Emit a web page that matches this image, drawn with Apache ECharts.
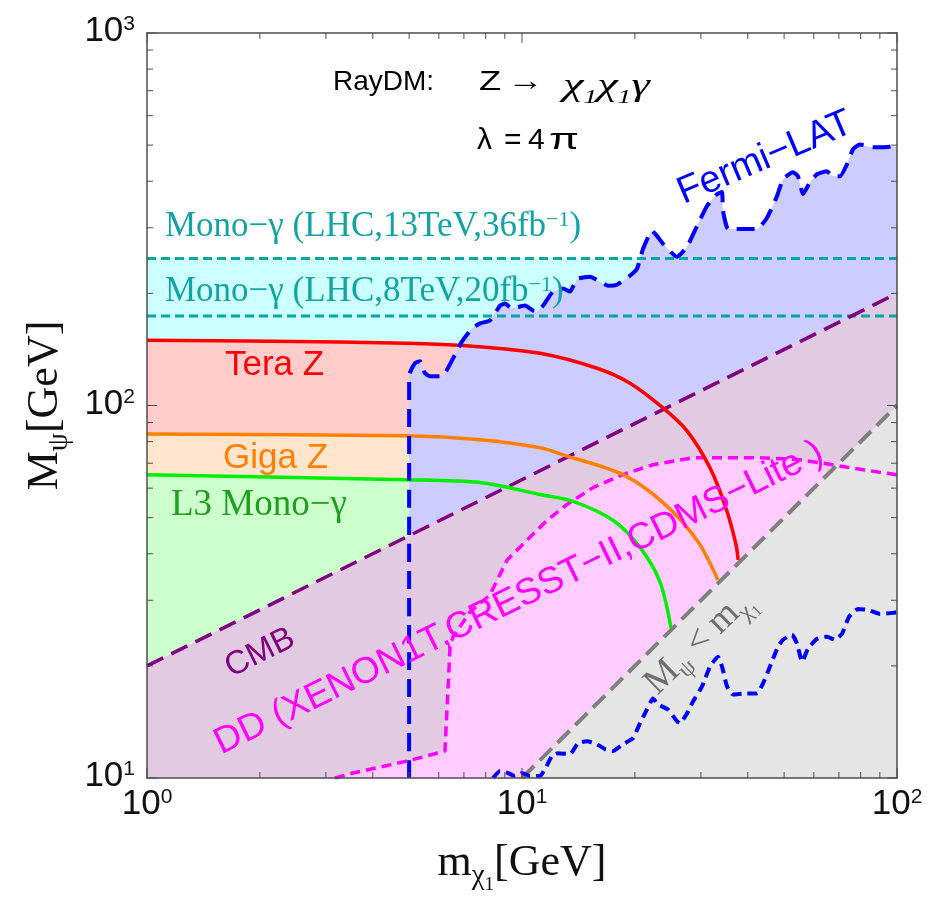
<!DOCTYPE html>
<html><head><meta charset="utf-8">
<script src="https://cdn.jsdelivr.net/npm/echarts@6/dist/echarts.min.js"></script>
<style>html,body{margin:0;padding:0;background:#fff}#c{width:938px;height:900px}</style>
</head><body><div id="c"></div>
<script>
// ---- ticks ----
const xMajorTicks = [1, 10, 100];
const xMinorTicks = [2,3,4,5,6,7,8,9,20,30,40,50,60,70,80,90];
const yMajorTicks = [10, 100, 1000];
const yMinorTicks = [20,30,40,50,60,70,80,90,200,300,400,500,600,700,800,900];
const xTickExponents = ['0', '1', '2'];      // 10^0 .. 10^2
const yTickExponents = ['1', '2', '3'];      // 10^1 .. 10^3

// ---- curves: [m_chi1 (GeV), M_psi (GeV)] ----
const monoLHC13 = [[1, 248], [100, 248]];
const monoLHC8  = [[1, 174], [100, 174]];
const teraZ = [[1,149.6],[2.17,148.7],[4.94,146.9],[7.40,144.2],[11.17,138.1],[15.85,125.9],[19.41,114.8],[23.77,98.5],[27.54,85.5],[31.7,68.1],[35.0,53.0],[37.2,42.4],[37.7,38.5]];
const gigaZ = [[1,83.9],[4.94,82.9],[7.73,80.9],[11.17,77.0],[13.0,73.5],[18.6,65.2],[24.1,54.2],[29.5,43.0],[33.3,34.0]];
const l3MonoGamma = [[1,65.2],[4.94,63.2],[7.73,62.1],[11.17,57.7],[13.68,55.3],[17.48,49.2],[20.64,41.6],[23.33,33.6],[24.96,25.3]];
const fermiLAT = [[5.0,10],[5.0,120.6],[5.18,129.9],[5.35,131.5],[5.51,122.1],[5.68,119.9],[6.04,119.9],[6.23,122.1],[6.55,133.9],[6.92,148.7],[7.36,161.1],[7.73,166.1],[8.21,169.2],[8.74,185.5],[9.01,187.8],[9.40,182.2],[10.19,185.5],[10.70,179.9],[10.96,178.8],[11.38,185.5],[12.10,202.2],[12.87,206.0],[13.43,202.2],[13.68,208.6],[14.11,219.1],[15.19,221.8],[16.14,215.0],[16.96,209.7],[17.92,211.0],[19.41,223.1],[20.27,232.9],[21.03,263.4],[22.22,294.3],[22.91,285.4],[23.77,271.7],[25.91,250.7],[27.54,266.6],[29.29,303.4],[31.14,343.1],[33.11,369.4],[34.15,374.0],[34.36,332.7],[35.43,297.9],[37.45,297.9],[42.34,297.9],[45.02,319.3],[47.86,364.8],[49.66,405.0],[52.80,422.8],[54.45,412.6],[56.15,369.4],[58.61,397.6],[61.20,417.6],[65.07,425.5],[67.50,412.6],[70.47,412.6],[73.56,444.2],[76.30,487.2],[79.66,502.3],[86.30,493.2],[91.80,493.2],[98.80,496.2],[100,490]];
const fermiLATLow = [[8.37,10.0],[8.74,10.44],[9.18,10.31],[9.58,10.12],[10.0,10.31],[10.50,10.12],[11.17,10.12],[11.52,10.57],[12.02,11.45],[12.47,11.66],[13.43,11.59],[14.11,12.40],[14.91,12.55],[15.85,12.32],[16.65,11.95],[17.48,11.81],[18.59,12.32],[19.77,12.79],[20.64,14.03],[21.54,15.28],[22.35,16.35],[23.05,15.76],[24.50,15.28],[25.91,14.20],[26.39,14.03],[27.54,14.91],[28.58,16.05],[30.20,17.61],[31.72,19.91],[33.32,21.17],[34.15,19.91],[35.22,17.61],[36.53,16.76],[39.81,16.87],[42.34,16.87],[43.92,17.94],[45.84,19.91],[48.17,22.51],[49.66,23.50],[52.48,24.24],[54.12,22.93],[55.83,20.53],[57.90,22.24],[61.20,23.64],[65.07,23.94],[68.35,23.50],[71.35,24.39],[74.47,27.08],[78.70,28.44],[83.70,28.27],[90.10,27.58],[97.6,27.75],[100,27.9]];
const cmb = [[1, 20], [100, 200]];
const directDetection = [[3.17,10.0],[3.54,10.31],[4.94,11.10],[6.23,11.81],[6.43,22.51],[6.55,23.94],[7.27,27.92],[8.21,31.0],[9.12,38.45],[10.31,43.47],[11.66,49.16],[13.18,54.24],[15.46,60.2],[18.59,65.24],[22.35,69.36],[28.58,72.4],[36.53,72.4],[43.12,72.4],[55.12,71.5],[62.33,70.2],[74.95,68.1],[98.8,65.24],[100,65.1]];
const kinematicLimit = [[10, 10], [100, 100]];

const SANS = '"Liberation Sans", Arial, sans-serif';
const SERIF = '"Liberation Serif", "Times New Roman", serif';
const FRAME = '#4d4d4d';
const deg = d => d * Math.PI / 180;

function fill(name, data, color, z, smooth) {
  return { name, type: 'line', data, z, silent: true, symbol: 'none', showSymbol: false, smooth: smooth || false,
    lineStyle: { opacity: 0, width: 0 }, areaStyle: { color, opacity: 1, origin: 'start' }, animation: false };
}
function stroke(name, data, color, width, type, z, smooth) {
  return { name, type: 'line', data, z, silent: true, symbol: 'none', showSymbol: false, smooth: smooth || false,
    lineStyle: { color, width, type, cap: 'butt' }, animation: false };
}
function tickSeries(values, isX, len) {
  return { type: 'custom', coordinateSystem: 'cartesian2d', silent: true, z: 40, animation: false,
    data: values.map(v => isX ? [v, 10] : [1, v]),
    renderItem: (params, api) => {
      let a, b, s1, s2;
      if (isX) {
        a = api.coord([api.value(0), 10]); b = api.coord([api.value(0), 1000]);
        s1 = { x1: a[0], y1: a[1], x2: a[0], y2: a[1] - len };
        s2 = { x1: b[0], y1: b[1], x2: b[0], y2: b[1] + len };
      } else {
        a = api.coord([1, api.value(1)]); b = api.coord([100, api.value(1)]);
        s1 = { x1: a[0], y1: a[1], x2: a[0] + len, y2: a[1] };
        s2 = { x1: b[0], y1: b[1], x2: b[0] - len, y2: b[1] };
      }
      return { type: 'group', children: [
        { type: 'line', shape: s1, style: { stroke: FRAME, lineWidth: 1 } },
        { type: 'line', shape: s2, style: { stroke: FRAME, lineWidth: 1 } } ] };
    } };
}
const tickRich = {
  b: { fontFamily: SANS, fontSize: 35, color: '#111', lineHeight: 38, verticalAlign: 'top' },
  s: { fontFamily: SANS, fontSize: 21, color: '#111', lineHeight: 22, verticalAlign: 'top' }
};
const titleRich = {
  m: { fontFamily: SERIF, fontSize: 44, color: '#111', lineHeight: 48, verticalAlign: 'top' },
  s: { fontFamily: SERIF, fontSize: 29, color: '#111', lineHeight: 31, verticalAlign: 'top', padding: [21, 0, 0, 0] },
  t: { fontFamily: SERIF, fontSize: 19, color: '#111', lineHeight: 20, verticalAlign: 'top', padding: [35, 0, 0, 0] }
};
const hiddenAxis = { axisLabel: { show: false }, axisTick: { show: false }, splitLine: { show: false },
  axisLine: { show: true, lineStyle: { color: FRAME, width: 1.5 } }, z: 50 };
const monoRich = {
  a: { fontFamily: SERIF, fontSize: 35, fill: '#14a3a3', lineHeight: 38, verticalAlign: 'top' },
  s: { fontFamily: SERIF, fontSize: 22, fill: '#14a3a3', lineHeight: 22, verticalAlign: 'top' }
};

const option = {
  animation: false,
  backgroundColor: '#fff',
  grid: { left: 147, right: 41, top: 33, bottom: 118, containLabel: false },
  xAxis: [
    { type: 'log', logBase: 10, min: 1, max: 100, position: 'bottom', z: 50,
      axisLine: { show: true, lineStyle: { color: FRAME, width: 1.5 } }, axisTick: { show: false }, splitLine: { show: false },
      axisLabel: { margin: 9, showMinLabel: true, showMaxLabel: true, rich: tickRich,
        formatter: v => '{b|10}{s|' + xTickExponents[Math.round(Math.log10(v))] + '}' },
      name: '{m|m}{s|χ}{t|1}{m|[GeV]}', nameLocation: 'middle', nameGap: 63,
      nameTextStyle: { rich: titleRich } },
    Object.assign({ type: 'log', logBase: 10, min: 1, max: 100, position: 'top' }, hiddenAxis)
  ],
  yAxis: [
    { type: 'log', logBase: 10, min: 10, max: 1000, position: 'left', z: 50,
      axisLine: { show: true, lineStyle: { color: FRAME, width: 1.5 } }, axisTick: { show: false }, splitLine: { show: false },
      axisLabel: { margin: 12, showMinLabel: true, showMaxLabel: true, rich: tickRich,
        formatter: v => '{b|10}{s|' + yTickExponents[Math.round(Math.log10(v)) - 1] + '}' },
      name: '{m|M}{s|ψ}{m|[GeV]}', nameLocation: 'middle', nameGap: 68, nameRotate: 90,
      nameTextStyle: { rich: titleRich } },
    Object.assign({ type: 'log', logBase: 10, min: 10, max: 1000, position: 'right' }, hiddenAxis)
  ],
  series: [
    fill('Mono-γ 13TeV region', monoLHC13, '#ccffff', 2),
    fill('Tera Z region', teraZ, '#ffcccc', 3, 0.3),
    fill('Giga Z region', gigaZ, '#ffe5cc', 4, 0.3),
    fill('L3 region', l3MonoGamma, '#ccffcc', 5, 0.3),
    fill('Fermi-LAT region', fermiLAT, '#ccccff', 6, 0.15),
    fill('CMB region', cmb, '#e2cbe2', 7),
    fill('DD region', directDetection, '#ffccff', 8),
    fill('M_psi < m_chi region', kinematicLimit, '#e5e5e5', 9),
    stroke('Mono-γ 13TeV', monoLHC13, '#00a6a6', 3, [9, 5], 20),
    stroke('Mono-γ 8TeV', monoLHC8, '#00a6a6', 3, [9, 5], 20),
    stroke('CMB', cmb, '#800080', 3.5, [18, 9], 21),
    stroke('DD', directDetection, '#ff00ff', 3.5, [10, 6], 22),
    stroke('M_psi < m_chi', kinematicLimit, '#808080', 4, [17, 8], 23),
    stroke('Tera Z', teraZ, '#ff0000', 3.5, 'solid', 24, 0.3),
    stroke('Giga Z', gigaZ, '#ff8000', 3.5, 'solid', 24, 0.3),
    stroke('L3', l3MonoGamma, '#00ee00', 3.5, 'solid', 24, 0.3),
    stroke('Fermi-LAT', fermiLAT, '#0000ff', 4, [18, 9], 25, 0.15),
    stroke('Fermi-LAT (low)', fermiLATLow, '#0000ff', 4, [10, 6], 25, 0.15),
    tickSeries(xMajorTicks, true, 10),
    tickSeries(xMinorTicks, true, 6),
    tickSeries(yMajorTicks, false, 10),
    tickSeries(yMinorTicks, false, 6)
  ],
  graphic: [
    { type: 'text', x: 333, y: 82, z: 100, style: { text: 'RayDM:', font: '28px ' + SANS, fill: '#000', verticalAlign: 'middle' } },
    { type: 'text', x: 479, y: 82, z: 100, scaleX: 1.3, style: { text: 'Z', font: '28px ' + SANS, fill: '#000', verticalAlign: 'middle' } },
    { type: 'text', x: 507, y: 82, z: 100, scaleX: 1.3, style: { text: '→', font: '28px ' + SANS, fill: '#000', verticalAlign: 'middle' } },
    { type: 'text', x: 563, y: 88, z: 100, scaleX: 1.45, style: { text: '{c|χ}{d|1}{c|χ}{d|1}{c|γ}', verticalAlign: 'middle',
        rich: { c: { fontFamily: SERIF, fontStyle: 'italic', fontSize: 32, fill: '#000', lineHeight: 34, verticalAlign: 'top' },
                d: { fontFamily: SERIF, fontStyle: 'italic', fontSize: 19, fill: '#000', lineHeight: 20, verticalAlign: 'top', padding: [17, 0, 0, 0] } } } },
    { type: 'text', x: 477, y: 141, z: 100, style: { text: 'λ', font: '30px ' + SANS, fill: '#000', verticalAlign: 'middle' } },
    { type: 'text', x: 504, y: 141, z: 100, style: { text: '=', font: '30px ' + SANS, fill: '#000', verticalAlign: 'middle' } },
    { type: 'text', x: 528, y: 141, z: 100, style: { text: '4', font: '30px ' + SANS, fill: '#000', verticalAlign: 'middle' } },
    { type: 'text', x: 549, y: 141, z: 100, scaleX: 1.45, style: { text: 'π', font: '30px ' + SANS, fill: '#000', verticalAlign: 'middle' } },
    { type: 'text', x: 165, y: 228, z: 100, style: { text: '{a|Mono−γ (LHC,13TeV,36fb}{s|−1}{a|)}', verticalAlign: 'middle', rich: monoRich } },
    { type: 'text', x: 165, y: 293, z: 100, style: { text: '{a|Mono−γ (LHC,8TeV,20fb}{s|−1}{a|)}', verticalAlign: 'middle', rich: monoRich } },
    { type: 'text', x: 225, y: 365, z: 100, style: { text: 'Tera Z', font: '35px ' + SANS, fill: '#ff0000', verticalAlign: 'middle' } },
    { type: 'text', x: 223, y: 458, z: 100, style: { text: 'Giga Z', font: '35px ' + SANS, fill: '#ff8000', verticalAlign: 'middle' } },
    { type: 'text', x: 171, y: 505, z: 100, style: { text: 'L3 Mono−γ', font: '37px ' + SERIF, fill: '#1f9f1f', verticalAlign: 'middle' } },
    { type: 'text', x: 260, y: 653, z: 100, rotation: deg(26.5), style: { text: 'CMB', font: '33px ' + SANS, fill: '#800080', align: 'center', verticalAlign: 'middle' } },
    { type: 'text', x: 519, y: 598, z: 100, rotation: deg(26), style: { text: 'DD (XENON1T,CRESST−II,CDMS−Lite )', font: '37px ' + SANS, fill: '#ff00ff', align: 'center', verticalAlign: 'middle' } },
    { type: 'text', x: 765, y: 158, z: 100, rotation: deg(23), style: { text: 'Fermi−LAT', font: '38px ' + SANS, fill: '#0000ff', align: 'center', verticalAlign: 'middle' } },
    { type: 'text', x: 700, y: 643, z: 100, rotation: deg(44), style: { text: '{a|M}{s|ψ}{a| < m}{s|χ}{t|1}', align: 'center', verticalAlign: 'middle',
        rich: { a: { fontFamily: SERIF, fontSize: 37, fill: '#6e6e6e', lineHeight: 40, verticalAlign: 'top' },
                s: { fontFamily: SERIF, fontSize: 24, fill: '#6e6e6e', lineHeight: 26, verticalAlign: 'top', padding: [18, 0, 0, 0] },
                t: { fontFamily: SERIF, fontSize: 16, fill: '#6e6e6e', lineHeight: 17, verticalAlign: 'top', padding: [29, 0, 0, 0] } } } }
  ]
};
const chart = echarts.init(document.getElementById('c'), null, { renderer: 'canvas' });
chart.setOption(option);
</script></body></html>
